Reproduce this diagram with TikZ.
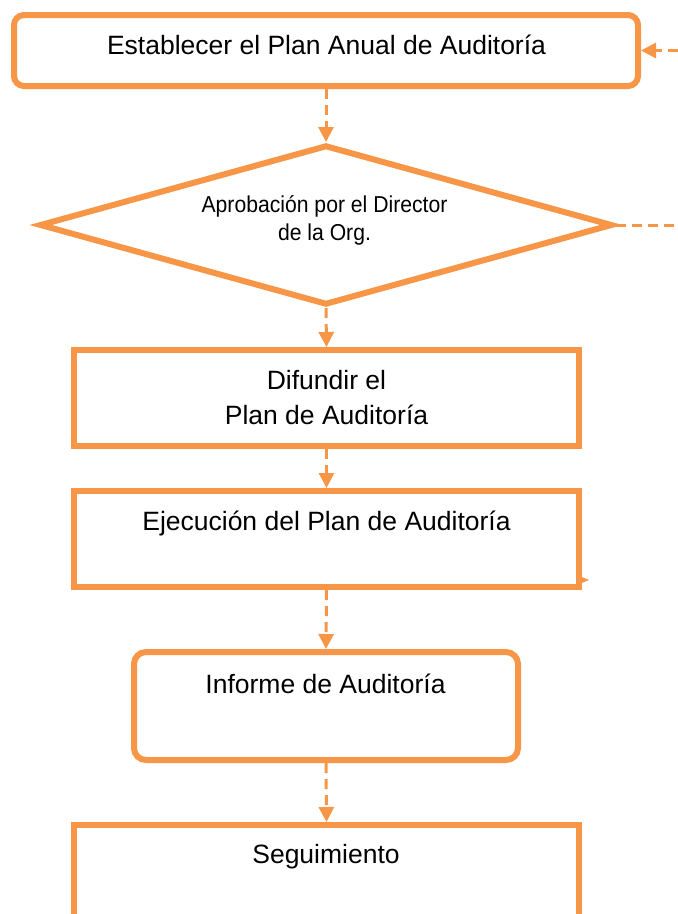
\documentclass[tikz,border=0pt]{standalone}
\usepackage{fontspec}
\setmainfont{Liberation Sans}
\newfontfamily\diafont{Liberation Sans}[FakeStretch=0.92]
\usetikzlibrary{arrows.meta,shapes.geometric}
\definecolor{orng}{HTML}{F79646}
\tikzset{
  boxsq/.style={draw=orng, line width=6pt, rectangle, inner sep=0pt},
  boxrd/.style={boxsq, rounded corners=10pt},
  lbl/.style={anchor=base, inner sep=0pt, text=black, font=\fontsize{26.5}{35}\selectfont},
  dlbl/.style={anchor=base, inner sep=0pt, text=black, font=\diafont\fontsize{23}{28}\selectfont},
  dashln/.style={draw=orng, line width=3pt, dash pattern=on 10pt off 6pt},
  conn/.style={dashln, -{Triangle[length=15pt,width=15pt]}}
}
\begin{document}
\begin{tikzpicture}[x=1pt,y=-1pt]
\useasboundingbox (0,0) rectangle (678,914);
\clip (0,0) rectangle (678,914);
% shapes
\node[boxrd, minimum width=624pt, minimum height=71pt] (b1) at (326,50.5) {};
\node[draw=orng, line width=6pt, diamond, minimum width=573pt, minimum height=160pt, inner sep=0pt] (d) at (326,225) {};
\node[boxsq, minimum width=505pt, minimum height=96pt] (b3) at (326.5,398) {};
\node[boxsq, minimum width=505pt, minimum height=96pt] (b4) at (326.5,539) {};
\node[boxrd, rounded corners=12pt, minimum width=384pt, minimum height=108pt] (b5) at (326,706) {};
\node[boxsq, minimum width=505pt, minimum height=170pt] (b6) at (326.5,910) {};
% texts
\node[lbl] (t1) at (326.5,54) {Establecer el Plan Anual de Auditoría};
\node[dlbl] (t2a) at (324.5,212) {Aprobación por el Director};
\node[dlbl] (t2b) at (324.5,240) {de la Org.};
\node[lbl] (t3a) at (326.5,389) {Difundir el};
\node[lbl] (t3b) at (326.5,424) {Plan de Auditoría};
\node[lbl] (t4) at (326.5,530) {Ejecución del Plan de Auditoría};
\node[lbl] (t5) at (325.5,693) {Informe de Auditoría};
\node[lbl] (t6) at (326,863) {Seguimiento};
% connectors
\coordinate (inR) at (678,50.5);
\coordinate (outR) at (678,225);
\draw[conn] (inR) -- (b1.east);
\draw[dashln] (d.east) -- (outR);
\draw[conn] (b1.south) -- (d.north);
\draw[conn] (d.south) -- (b3.north);
\draw[conn] (b3.south) -- (b4.north);
\draw[conn] (b4.south) -- (b5.north);
\draw[conn] (b5.south) -- (b6.north);
% small stub tip at lower right of b4
\fill[orng] (582,577) -- (589,580) -- (582,583) -- cycle;
\end{tikzpicture}
\end{document}
